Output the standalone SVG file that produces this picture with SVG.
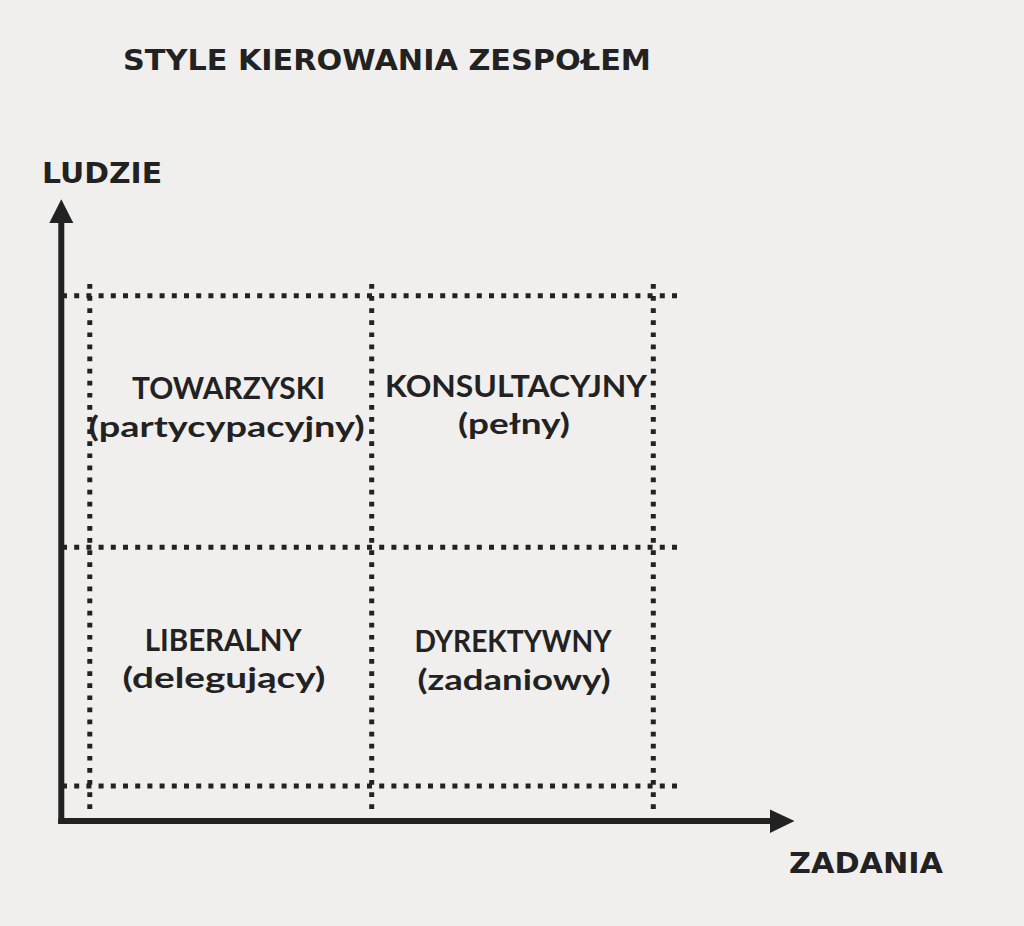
<svg xmlns="http://www.w3.org/2000/svg" width="1024" height="926" viewBox="0 0 1024 926">
  <defs>
    <style>
      .head { font-family: "DejaVu Sans", Verdana, sans-serif; font-weight: bold; fill: #222; }
      .lbl { font-family: Lato, "Open Sans", sans-serif; font-weight: bold; font-size: 29px; fill: #222; text-anchor: middle; }
      .cap { font-size: 31px; }
      .axis { stroke: #222; stroke-width: 6; fill: none; }
      .dotsH { stroke: #222; stroke-width: 5; stroke-dasharray: 5 7.2; fill: none; }
      .dotsV { stroke: #222; stroke-width: 5; stroke-dasharray: 4.7 7.4; fill: none; }
    </style>
  </defs>
  <rect width="1024" height="926" fill="#f0efed"/>

  <text id="title" class="head" x="123" y="70" font-size="29" textLength="528" lengthAdjust="spacingAndGlyphs">STYLE KIEROWANIA ZESPOŁEM</text>
  <text id="label-ludzie" class="head" x="42" y="183" font-size="28" textLength="120" lengthAdjust="spacingAndGlyphs">LUDZIE</text>
  <text id="label-zadania" class="head" x="789" y="873" font-size="28" textLength="154" lengthAdjust="spacingAndGlyphs">ZADANIA</text>

  <g id="grid">
    <line class="dotsH" x1="62" y1="295.7" x2="677.5" y2="295.7"/>
    <line class="dotsH" x1="62" y1="547.3" x2="677.5" y2="547.3"/>
    <line class="dotsH" x1="62" y1="786" x2="677.5" y2="786"/>
    <line class="dotsV" x1="89.8" y1="284" x2="89.8" y2="810"/>
    <line class="dotsV" x1="371.7" y1="284" x2="371.7" y2="810"/>
    <line class="dotsV" x1="653.3" y1="284" x2="653.3" y2="810"/>
  </g>

  <g id="axes">
    <line class="axis" x1="61.3" y1="222" x2="61.3" y2="824"/>
    <polygon points="49.3,223 61.3,199.3 73.3,223" fill="#222"/>
    <line class="axis" x1="58.3" y1="821" x2="771" y2="821"/>
    <polygon points="770,809.5 794.5,821 770,833" fill="#222"/>
  </g>

  <g id="q-towarzyski">
    <text class="lbl cap" x="228.5" y="399" textLength="193" lengthAdjust="spacingAndGlyphs">TOWARZYSKI</text>
    <text class="lbl" x="226.6" y="437" textLength="276" lengthAdjust="spacingAndGlyphs">(partycypacyjny)</text>
  </g>
  <g id="q-konsultacyjny">
    <text class="lbl cap" x="516" y="397" textLength="262" lengthAdjust="spacingAndGlyphs">KONSULTACYJNY</text>
    <text class="lbl" x="514" y="434" textLength="112" lengthAdjust="spacingAndGlyphs">(pełny)</text>
  </g>
  <g id="q-liberalny">
    <text class="lbl cap" x="223.2" y="651" textLength="157" lengthAdjust="spacingAndGlyphs">LIBERALNY</text>
    <text class="lbl" x="224" y="688" textLength="203" lengthAdjust="spacingAndGlyphs">(delegujący)</text>
  </g>
  <g id="q-dyrektywny">
    <text class="lbl cap" x="513" y="652" textLength="197" lengthAdjust="spacingAndGlyphs">DYREKTYWNY</text>
    <text class="lbl" x="514" y="690" textLength="193" lengthAdjust="spacingAndGlyphs">(zadaniowy)</text>
  </g>
</svg>
